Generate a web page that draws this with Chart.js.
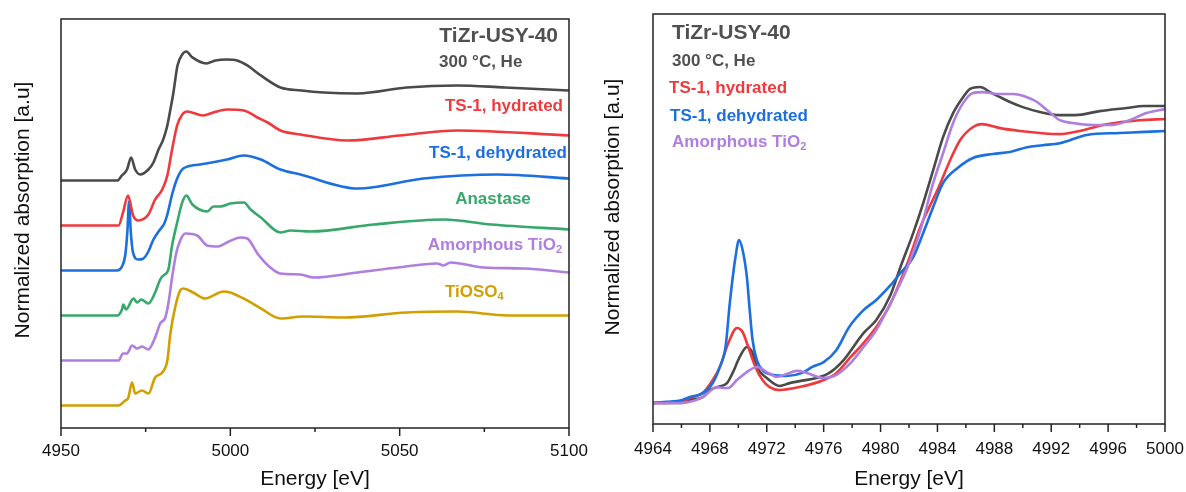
<!DOCTYPE html>
<html>
<head>
<meta charset="utf-8">
<script src="https://cdn.jsdelivr.net/npm/chart.js@4.4.0/dist/chart.umd.min.js"></script>
<style>
  body { margin: 0; background: #fff; width: 1186px; height: 492px; overflow: hidden; position: relative; }
  canvas { position: absolute; top: 0; }
  #overview { left: 0; }
  #zoomed { left: 600px; }
</style>
</head>
<body>
<canvas id="overview" width="600" height="492"></canvas>
<canvas id="zoomed" width="586" height="492"></canvas>
<script>
// ---- left panel: full XANES, normalized, stacked with offsets ----
var ovE_tizr = [4950, 4960, 4966.6, 4968, 4969.5, 4970.7, 4971.9, 4973.4, 4975.8, 4977.3, 4978.8, 4980.2, 4981.4, 4982.3, 4983.2, 4984.4, 4985.8, 4987, 4988.8, 4992.9, 4995.6, 4999, 5002, 5005, 5009, 5014.8, 5021, 5027.5, 5037.6, 5052, 5067, 5081, 5100];
var ovY_tizr = [0, 0, 0, 0.056, 0.122, 0.256, 0.122, 0.067, 0.122, 0.2, 0.344, 0.456, 0.611, 0.789, 0.978, 1.278, 1.4, 1.433, 1.367, 1.3, 1.333, 1.344, 1.333, 1.278, 1.167, 1.033, 1.0, 0.978, 0.967, 1.033, 1.056, 1.033, 1.0];

var ovE_hyd = [4950, 4960, 4967, 4968.3, 4969.8, 4971.3, 4972.8, 4975.8, 4977.8, 4979.9, 4981.4, 4982.8, 4984.3, 4985.8, 4987.2, 4992, 4995, 4999, 5004, 5008, 5011, 5014.8, 5020.7, 5034.6, 5050, 5067, 5100];
var ovY_hyd = [0, 0, 0, 0.144, 0.333, 0.111, 0.056, 0.122, 0.289, 0.4, 0.556, 0.844, 1.111, 1.233, 1.267, 1.222, 1.256, 1.289, 1.278, 1.2, 1.144, 1.056, 1.011, 0.944, 1.0, 1.056, 1.0];

var ovE_dehyd = [4950, 4960, 4966.6, 4968, 4969, 4969.6, 4970.1, 4970.6, 4971.2, 4972.8, 4974.3, 4975.8, 4977.3, 4978.8, 4980.5, 4981.4, 4982.8, 4984.3, 4986.1, 4991, 4999, 5004, 5009, 5014.8, 5020.7, 5037.6, 5057, 5079, 5100];
var ovY_dehyd = [0, 0, 0, 0.044, 0.178, 0.433, 0.767, 0.433, 0.211, 0.122, 0.133, 0.211, 0.344, 0.433, 0.522, 0.622, 0.844, 1.022, 1.133, 1.178, 1.233, 1.278, 1.233, 1.122, 1.067, 0.911, 1.022, 1.067, 1.022];

var ovE_anat = [4950, 4960, 4966.6, 4968, 4968.4, 4969.2, 4971.4, 4972.5, 4973.7, 4975.8, 4977.8, 4979.3, 4980.2, 4981.7, 4982.8, 4984.3, 4985.8, 4987, 4988.8, 4993.2, 4995, 4997, 5000, 5004, 5006, 5009, 5014.8, 5017.8, 5023.7, 5042.3, 5063, 5077, 5100];
var ovY_anat = [0, 0, 0, 0.067, 0.122, 0.067, 0.189, 0.144, 0.178, 0.133, 0.256, 0.4, 0.444, 0.511, 0.778, 1.033, 1.256, 1.333, 1.233, 1.156, 1.211, 1.211, 1.244, 1.256, 1.178, 1.089, 0.922, 0.944, 0.933, 1.011, 1.067, 1.011, 0.956];

var ovE_amor = [4950, 4960, 4967, 4968.3, 4969.5, 4971, 4972.5, 4973.9, 4975.8, 4977.8, 4979.3, 4980.8, 4981.7, 4982.8, 4984, 4985.2, 4986.7, 4990.2, 4993.2, 4996.5, 4999, 5003, 5005, 5008, 5011.8, 5014.8, 5020.7, 5024.6, 5037.6, 5049.4, 5061, 5063, 5065, 5074.8, 5086.7, 5100];
var ovY_amor = [0, 0, 0, 0.078, 0.078, 0.167, 0.133, 0.156, 0.122, 0.256, 0.411, 0.478, 0.633, 0.922, 1.189, 1.333, 1.411, 1.389, 1.278, 1.267, 1.311, 1.367, 1.356, 1.189, 1.033, 0.967, 0.956, 0.922, 0.978, 1.033, 1.078, 1.056, 1.089, 1.033, 1.022, 0.978];

var ovE_tioso4 = [4950, 4960, 4967, 4969, 4969.8, 4971, 4971.9, 4973.9, 4975.8, 4977.8, 4979.9, 4981.4, 4982.3, 4983.7, 4985.2, 4986.1, 4989, 4992.6, 4998, 5000, 5005, 5009, 5014.8, 5021.6, 5033.4, 5052, 5067, 5082, 5100];
var ovY_tioso4 = [0, 0, 0, 0.056, 0.078, 0.256, 0.133, 0.167, 0.133, 0.311, 0.367, 0.5, 0.8, 1.089, 1.278, 1.3, 1.256, 1.189, 1.267, 1.256, 1.167, 1.078, 0.967, 0.989, 0.978, 1.033, 1.044, 1.0, 1.0];

// vertical offsets used to stack the spectra (top to bottom)
var ovOffsets = [2.5, 2.0, 1.5, 1.0, 0.5, 0];

// ---- right panel: pre-edge region, not offset ----
var zmE_tizr = [4964, 4966, 4966.6, 4967.5, 4968, 4968.5, 4969.2, 4969.6, 4970.1, 4970.6, 4971, 4971.3, 4972, 4972.9, 4973.6, 4974.3, 4975.5, 4976.4, 4977.4, 4978.8, 4979.7, 4980.7, 4981.4, 4982.3, 4983, 4983.7, 4984.4, 4985.1, 4985.8, 4986.3, 4987, 4987.7, 4988.4, 4989.1, 4990, 4991.2, 4992.6, 4993.7, 4995.4, 4997.3, 4998.5, 5000];
var zmY_tizr = [0, 0, 0.011, 0.021, 0.046, 0.056, 0.07, 0.106, 0.162, 0.197, 0.176, 0.127, 0.088, 0.06, 0.07, 0.077, 0.088, 0.106, 0.151, 0.246, 0.292, 0.38, 0.479, 0.599, 0.704, 0.82, 0.937, 1.021, 1.077, 1.106, 1.113, 1.095, 1.077, 1.06, 1.042, 1.025, 1.014, 1.014, 1.028, 1.039, 1.046, 1.046];

var zmE_hyd = [4964, 4966, 4966.6, 4967.5, 4968.2, 4968.7, 4969.3, 4969.9, 4970.3, 4970.7, 4971.2, 4971.7, 4972.2, 4972.9, 4974.3, 4976, 4976.9, 4977.9, 4978.8, 4979.7, 4980.6, 4981.9, 4982.8, 4984, 4984.9, 4985.6, 4986.5, 4987.1, 4988.4, 4989.8, 4991.2, 4992.6, 4994, 4995.9, 4998.2, 5000];
var zmY_hyd = [0, 0.004, 0.018, 0.035, 0.081, 0.127, 0.211, 0.264, 0.25, 0.197, 0.127, 0.081, 0.056, 0.046, 0.056, 0.081, 0.106, 0.162, 0.211, 0.268, 0.34, 0.493, 0.62, 0.75, 0.856, 0.926, 0.972, 0.982, 0.968, 0.958, 0.951, 0.947, 0.958, 0.982, 0.996, 1.0];

var zmE_dehyd = [4964, 4965, 4966, 4966.6, 4967.5, 4968.2, 4968.7, 4969.1, 4969.4, 4969.8, 4970.05, 4970.3, 4970.6, 4970.8, 4971, 4971.3, 4971.7, 4972.4, 4973.4, 4974.5, 4975.2, 4976, 4976.9, 4977.8, 4978.8, 4979.7, 4980.7, 4981.4, 4982.3, 4983, 4983.7, 4984.4, 4985.4, 4986.5, 4987.9, 4989.1, 4990.3, 4991.4, 4992.6, 4994.5, 4996.8, 4998.2, 5000];
var zmY_dehyd = [0, 0.004, 0.01, 0.021, 0.035, 0.07, 0.127, 0.197, 0.352, 0.514, 0.574, 0.539, 0.444, 0.327, 0.222, 0.151, 0.116, 0.099, 0.095, 0.106, 0.127, 0.144, 0.187, 0.268, 0.327, 0.363, 0.415, 0.458, 0.514, 0.599, 0.69, 0.775, 0.827, 0.863, 0.877, 0.884, 0.901, 0.908, 0.915, 0.944, 0.951, 0.954, 0.958];

var zmE_amor = [4964, 4966, 4966.6, 4967.5, 4968.5, 4968.9, 4969.3, 4969.9, 4970.6, 4971.3, 4972, 4972.7, 4973.4, 4974.1, 4974.8, 4976, 4976.9, 4977.9, 4978.8, 4979.7, 4980.7, 4981.9, 4982.8, 4983.7, 4984.4, 4985.1, 4985.8, 4986.5, 4987.2, 4988.2, 4989.3, 4990.3, 4991, 4991.7, 4992.6, 4993.5, 4994.9, 4996.3, 4997.5, 4998.7, 5000];
var zmY_amor = [0, 0, 0.004, 0.021, 0.056, 0.053, 0.053, 0.081, 0.109, 0.127, 0.109, 0.092, 0.102, 0.113, 0.106, 0.088, 0.099, 0.141, 0.197, 0.257, 0.352, 0.479, 0.609, 0.775, 0.88, 0.986, 1.056, 1.092, 1.095, 1.088, 1.088, 1.077, 1.06, 1.032, 0.996, 0.986, 0.979, 0.979, 0.996, 1.021, 1.035];

var FONT = "Arial, 'Liberation Sans', sans-serif";
var cGray = '#4a4a4a', cRed = '#ef3a3d', cBlue = '#1b6fdf', cGreen = '#36a86a', cPurple = '#b07de0', cGold = '#d29f00';

function pts(E, Y, off) {
  return E.map(function(e, i){ return {x: e, y: Y[i] + (off || 0)}; });
}

function line(data, color, order) {
  return {
    data: data, borderColor: color, borderWidth: 2.6, pointRadius: 0,
    fill: false, cubicInterpolationMode: 'monotone', order: order
  };
}

// frame, minor/major ticks, rotated y title and the text labels
var decorPlugin = {
  id: 'decor',
  afterDraw: function(chart, args, opts){
    var ctx = chart.ctx, a = chart.chartArea, xs = chart.scales.x;
    ctx.save();
    ctx.strokeStyle = '#222';
    ctx.lineWidth = 1.5;
    ctx.strokeRect(a.left, a.top, a.right - a.left, a.bottom - a.top);
    var n = Math.round((xs.max - xs.min) / opts.minor);
    for (var i = 0; i <= n; i++) {
      var v = xs.min + i * opts.minor;
      var px = xs.getPixelForValue(v);
      var isMajor = (i * opts.minor) % opts.major === 0;
      ctx.beginPath();
      ctx.moveTo(px, a.bottom);
      ctx.lineTo(px, a.bottom + (isMajor ? 8 : 4));
      ctx.stroke();
    }
    ctx.restore();

    ctx.save();
    ctx.translate(opts.yTitle.x, opts.yTitle.y);
    ctx.rotate(-Math.PI / 2);
    ctx.font = '21px ' + FONT;
    ctx.fillStyle = '#111';
    ctx.textAlign = 'center';
    ctx.textBaseline = 'middle';
    ctx.fillText('Normalized absorption [a.u]', 0, 0);
    ctx.restore();

    opts.labels.forEach(function(l){
      ctx.save();
      ctx.fillStyle = l.color;
      ctx.textBaseline = 'middle';
      ctx.textAlign = 'left';
      var mainFont = 'bold ' + l.size + 'px ' + FONT;
      var subFont = 'bold ' + Math.round(l.size * 0.65) + 'px ' + FONT;
      ctx.font = mainFont;
      var w = ctx.measureText(l.text).width;
      var ws = 0;
      if (l.sub) { ctx.font = subFont; ws = ctx.measureText(l.sub).width; }
      var total = w + ws;
      var x0 = l.x;
      if (l.align === 'right') x0 = l.x - total;
      else if (l.align === 'center') x0 = l.x - total / 2;
      ctx.font = mainFont;
      ctx.fillText(l.text, x0, l.y);
      if (l.sub) {
        ctx.font = subFont;
        ctx.fillText(l.sub, x0 + w, l.y + l.size * 0.3);
      }
      ctx.restore();
    });
  }
};

function makeChart(id, datasets, cfg) {
  var ctx = document.getElementById(id).getContext('2d');
  return new Chart(ctx, {
    type: 'line',
    data: { datasets: datasets },
    plugins: [decorPlugin],
    options: {
      responsive: false,
      animation: false,
      layout: { padding: cfg.padding },
      plugins: {
        legend: { display: false },
        tooltip: { enabled: false },
        decor: { minor: cfg.minor, major: cfg.major, yTitle: cfg.yTitle, labels: cfg.labels }
      },
      scales: {
        x: {
          type: 'linear', min: cfg.xMin, max: cfg.xMax,
          grid: { display: false, drawTicks: false },
          border: { display: false },
          ticks: {
            stepSize: cfg.major, autoSkip: false, maxRotation: 0, padding: cfg.tickPad, color: '#111',
            font: { family: FONT, size: 17 },
            callback: function(v){ return String(v); }
          },
          title: { display: true, text: 'Energy [eV]', color: '#111', padding: 0, font: { family: FONT, size: 21 } },
          afterFit: function(s){
            s.height = cfg.xAxisHeight;
            s.paddingLeft = 0;
            s.paddingRight = 0;
          }
        },
        y: { display: false, min: cfg.yMin, max: cfg.yMax }
      }
    }
  });
}

makeChart('overview', [
  line(pts(ovE_tizr, ovY_tizr, ovOffsets[0]), cGray, 0),
  line(pts(ovE_hyd, ovY_hyd, ovOffsets[1]), cRed, 1),
  line(pts(ovE_dehyd, ovY_dehyd, ovOffsets[2]), cBlue, 2),
  line(pts(ovE_anat, ovY_anat, ovOffsets[3]), cGreen, 3),
  line(pts(ovE_amor, ovY_amor, ovOffsets[4]), cPurple, 4),
  line(pts(ovE_tioso4, ovY_tioso4, ovOffsets[5]), cGold, 5)
], {
  xMin: 4950, xMax: 5100, major: 50, minor: 25,
  yMin: -0.25, yMax: 4.294,
  padding: { left: 61, top: 19, right: 31, bottom: 0 },
  xAxisHeight: 64, tickPad: 13,
  yTitle: { x: 23, y: 210 },
  labels: [
    { text: 'TiZr-USY-40', size: 21, color: '#505050', x: 558, y: 36, align: 'right' },
    { text: '300 °C, He', size: 17, color: '#505050', x: 439, y: 62, align: 'left' },
    { text: 'TS-1, hydrated', size: 17, color: cRed, x: 563, y: 106, align: 'right' },
    { text: 'TS-1, dehydrated', size: 17, color: cBlue, x: 567, y: 153, align: 'right' },
    { text: 'Anastase', size: 17, color: cGreen, x: 493, y: 199, align: 'center' },
    { text: 'Amorphous TiO', sub: '2', size: 17, color: cPurple, x: 562, y: 245, align: 'right' },
    { text: 'TiOSO', sub: '4', size: 17, color: cGold, x: 445, y: 292, align: 'left' }
  ]
});

makeChart('zoomed', [
  line(pts(zmE_tizr, zmY_tizr), cGray, 3),
  line(pts(zmE_hyd, zmY_hyd), cRed, 2),
  line(pts(zmE_dehyd, zmY_dehyd), cBlue, 1),
  line(pts(zmE_amor, zmY_amor), cPurple, 0)
], {
  xMin: 4964, xMax: 5000, major: 4, minor: 2,
  yMin: -0.074, yMax: 1.37,
  padding: { left: 53, top: 14, right: 21, bottom: 0 },
  xAxisHeight: 68, tickPad: 15,
  yTitle: { x: 13, y: 207 },
  labels: [
    { text: 'TiZr-USY-40', size: 21, color: '#505050', x: 72, y: 33, align: 'left' },
    { text: '300 °C, He', size: 17, color: '#505050', x: 72, y: 61, align: 'left' },
    { text: 'TS-1, hydrated', size: 17, color: cRed, x: 69, y: 88, align: 'left' },
    { text: 'TS-1, dehydrated', size: 17, color: cBlue, x: 70, y: 116, align: 'left' },
    { text: 'Amorphous TiO', sub: '2', size: 17, color: cPurple, x: 72, y: 142, align: 'left' }
  ]
});
</script>
</body>
</html>
